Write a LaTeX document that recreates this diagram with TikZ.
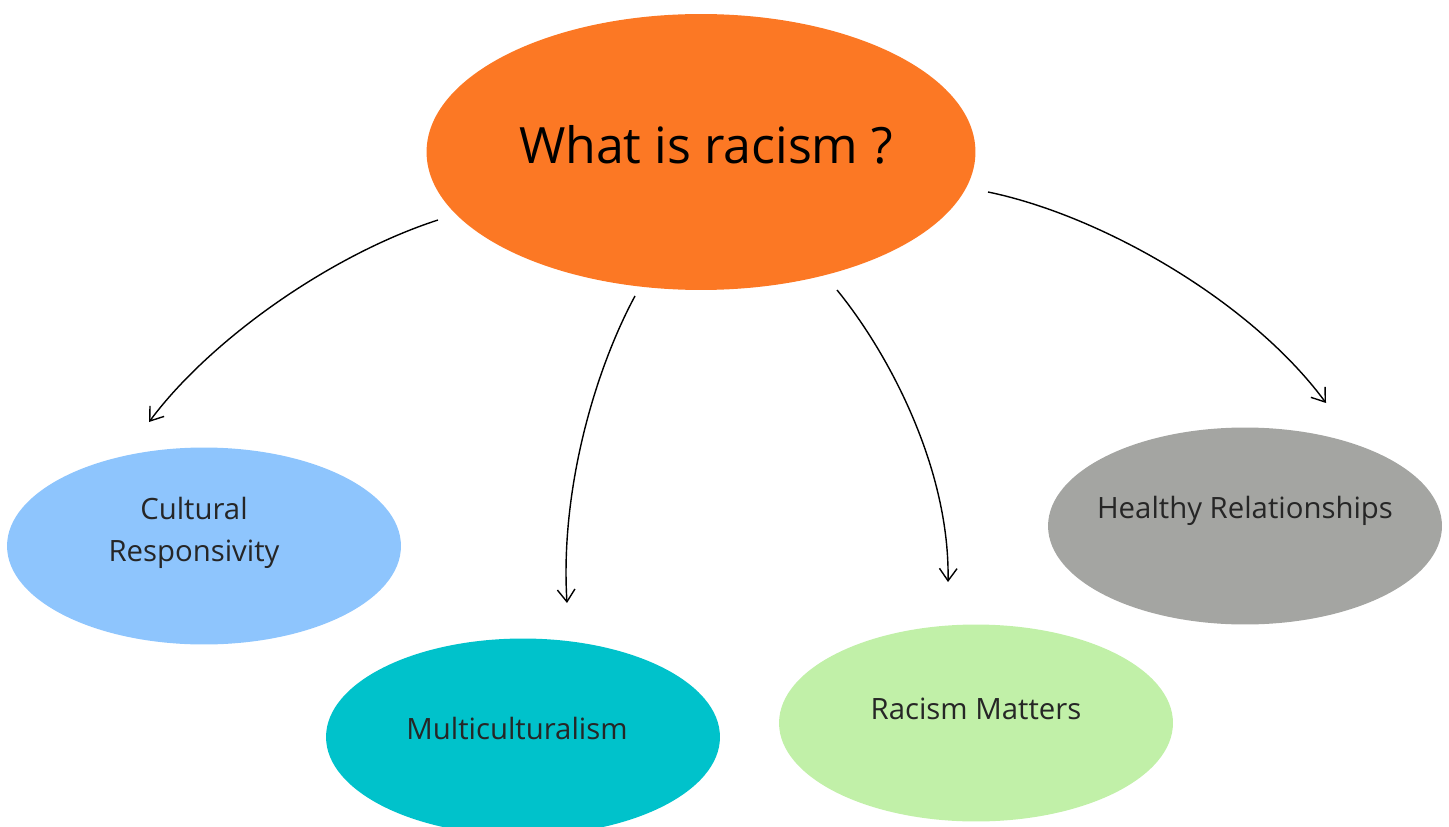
\documentclass[tikz,border=0pt]{standalone}
\usepackage{fontspec}
\setmainfont{Open Sans}
\usetikzlibrary{arrows.meta, positioning, shapes.geometric}
\definecolor{mainorange}{HTML}{FC7824}
\definecolor{culture}{HTML}{8EC5FD}
\definecolor{multi}{HTML}{00C2CB}
\definecolor{matters}{HTML}{C1F0A8}
\definecolor{healthy}{HTML}{A4A5A2}

\begin{document}
\begin{tikzpicture}[
    x=0.02cm, y=-0.02cm,
    topic/.style={ellipse, fill=mainorange, inner sep=0pt, minimum width=10.98cm, minimum height=5.52cm},
    sub/.style={ellipse, fill=#1, inner sep=0pt, minimum width=7.88cm, minimum height=3.94cm},
    lbl/.style={font=\fontsize{16.7}{24}\selectfont, align=center, text=black!85},
    arr/.style={-{Straight Barb[length=7pt, width=10pt]}, line width=0.8pt, black},
]

\useasboundingbox (0,0) rectangle (1449,827);

% Central question
\node[topic] (rac) at (701,152) {};
\node[font=\fontsize{28.5}{34}\selectfont] (ractxt) at (706,145) {What is racism ?};

% Sub topics
\node[sub=culture] (cul) at (204,546) {};
\node[lbl] (cultxt) at (194,533) {Cultural\\Responsivity};

\node[sub=multi] (mul) at (523,737) {};
\node[lbl] (multxt) at (517,728) {Multiculturalism};

\node[sub=matters] (mat) at (976,723) {};
\node[lbl] (mattxt) at (976,709) {Racism Matters};

\node[sub=healthy] (hea) at (1245,526) {};
\node[lbl] (heatxt) at (1245,511) {Healthy Relationships};

% Arrow ends
\coordinate (s1) at (438,220);
\coordinate (e1) at (149,422);
\coordinate (s2) at (635,296);
\coordinate (e2) at (567,603);
\coordinate (s3) at (837,290);
\coordinate (e3) at (948,582);
\coordinate (s4) at (988,192);
\coordinate (e4) at (1326,403);

\draw[arr] (s1) .. controls (330,255) and (210,340) .. (e1);
\draw[arr] (s2) .. controls (595,370) and (560,490) .. (e2);
\draw[arr] (s3) .. controls (890,355) and (950,470) .. (e3);
\draw[arr] (s4) .. controls (1100,215) and (1250,300) .. (e4);

\end{tikzpicture}
\end{document}
